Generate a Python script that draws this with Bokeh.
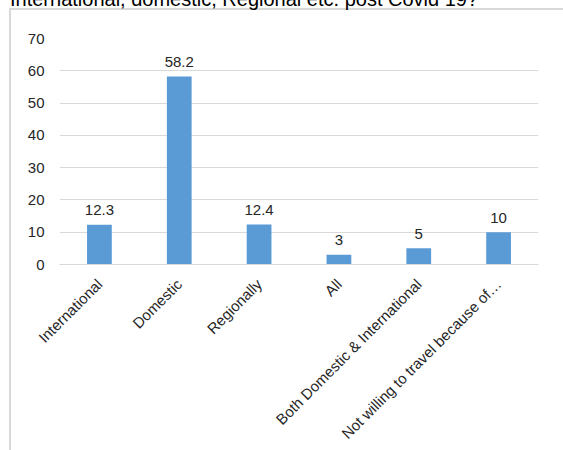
import math
from bokeh.plotting import figure
from bokeh.layouts import column
from bokeh.models import ColumnDataSource, FixedTicker, Div
from bokeh.core.properties import value
from bokeh.embed import file_html
from bokeh.resources import INLINE

categories = ["International", "Domestic", "Regionally", "All",
              "Both Domestic & International", "Not willing to travel because of\u2026"]
percentages = [12.3, 58.2, 12.4, 3, 5, 10]
value_labels = ["12.3", "58.2", "12.4", "3", "5", "10"]
y_ticks = [0, 10, 20, 30, 40, 50, 60, 70]
title_text = "International, domestic, Regional etc. post Covid 19?"

FONT = "Liberation Sans"
TXT = "#262626"
BORDER = "#d9d9d9"

src = ColumnDataSource(dict(cat=categories, val=percentages, lbl=value_labels))

p = figure(x_range=categories, y_range=(0, 70), width=563, height=450,
           output_backend="svg", toolbar_location=None,
           min_border_left=59, min_border_right=25, min_border_top=38, min_border_bottom=186)

p.vbar(x="cat", top="val", width=0.31, source=src, fill_color="#5b9bd5", line_color=None)
p.text(x="cat", y="val", text="lbl", source=src, text_align="center",
       text_baseline="alphabetic", y_offset=-14.5, text_color=TXT,
       text_font=value(FONT), text_font_size="15px")

p.outline_line_color = None
p.background_fill_color = None
p.border_fill_color = None
p.styles = {
    "background-color": "white",
    "background-image": f"linear-gradient({BORDER},{BORDER}), linear-gradient({BORDER},{BORDER})",
    "background-size": "2px 100%, 100% 2px",
    "background-position": "9px 9px, 9px 8px",
    "background-repeat": "no-repeat",
}

p.xgrid.visible = False
p.ygrid.grid_line_color = BORDER
p.ygrid.grid_line_width = 1

p.yaxis.ticker = FixedTicker(ticks=y_ticks)
p.yaxis.axis_line_color = None
p.yaxis.major_tick_line_color = None
p.yaxis.minor_tick_line_color = None
p.yaxis.major_tick_out = 0
p.yaxis.major_tick_in = 0
p.yaxis.major_label_standoff = 15
p.yaxis.major_label_text_font = FONT
p.yaxis.major_label_text_font_size = "15px"
p.yaxis.major_label_text_color = TXT

p.xaxis.axis_line_color = BORDER
p.xaxis.major_tick_line_color = None
p.xaxis.major_tick_out = 0
p.xaxis.major_tick_in = 0
p.xaxis.major_label_orientation = math.pi / 4
p.xaxis.major_label_standoff = 17
p.xaxis.major_label_text_font = FONT
p.xaxis.major_label_text_font_size = "15px"
p.xaxis.major_label_text_color = TXT

title = Div(text=title_text, styles={
    "position": "absolute", "left": "10px", "top": "-12px", "z-index": "10",
    "font-family": "'Liberation Sans', Arial, sans-serif", "font-size": "20px",
    "line-height": "normal", "color": "#000000", "white-space": "nowrap",
    "margin": "0", "padding": "0",
})

layout = column(title, p, spacing=0)

open("out.html", "w").write(file_html(layout, INLINE))
